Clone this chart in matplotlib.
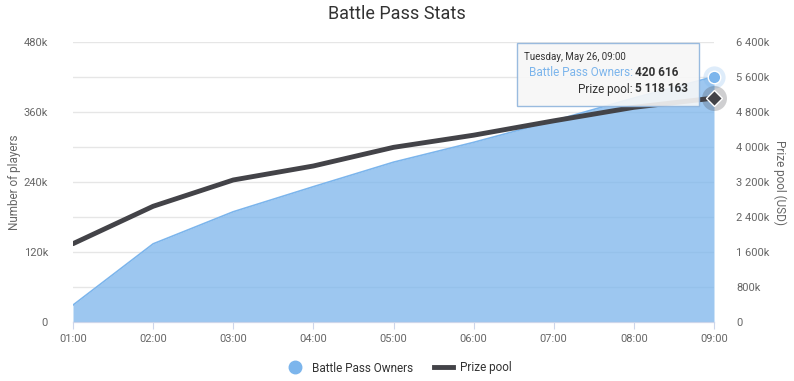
import numpy as np
import matplotlib.pyplot as plt
from matplotlib.lines import Line2D
from matplotlib.ticker import FuncFormatter, MultipleLocator

# =============================================================================
# Data
# =============================================================================

hours = ['01:00', '02:00', '03:00', '04:00', '05:00', '06:00', '07:00', '08:00', '09:00']
owners = [29000, 134000, 189000, 232000, 274000, 308000, 345000, 384000, 420616]
prize = [1790000, 2645000, 3246000, 3566000, 3992000, 4270000, 4598000, 4907000, 5118163]

tooltip_date = 'Tuesday, May 26, 09:00'

# =============================================================================
# Style
# =============================================================================

plt.rcParams['font.family'] = ['Roboto', 'DejaVu Sans']
blue = '#7cb5ec'
dark = '#434348'
grey_txt = '#666666'
grid_col = '#e6e6e6'


def k_fmt(v, pos):
    if v == 0:
        return '0'
    s = '{:,}'.format(int(round(v / 1000))).replace(',', ' ')
    return s + 'k'


# =============================================================================
# Plot
# =============================================================================

fig = plt.figure(figsize=(7.94, 3.81), dpi=100)
ax = fig.add_axes([73 / 794, 1 - 322 / 381, 641 / 794, 280 / 381])
ax2 = ax.twinx()

x = np.arange(len(hours))

# Area: battle pass owners
ax.fill_between(x, 0, owners, color=blue, alpha=0.75, linewidth=0, zorder=2)
ax.plot(x, owners, color=blue, linewidth=1.2, zorder=3)

# Line: prize pool
ax2.plot(x, prize, color=dark, linewidth=3.5, solid_capstyle='round', zorder=3)

# Hover markers at last point
ax.plot(x[-1], owners[-1], 'o', ms=16, color=blue, alpha=0.25, mec='none',
        zorder=4, clip_on=False)
ax.plot(x[-1], owners[-1], 'o', ms=9, color=blue, mec='white', mew=1,
        zorder=5, clip_on=False)
ax2.plot(x[-1], prize[-1], 'o', ms=18, color=dark, alpha=0.25, mec='none',
         zorder=4, clip_on=False)
ax2.plot(x[-1], prize[-1], 'D', ms=8, color=dark, mec='white', mew=1,
         zorder=5, clip_on=False)

# Axes limits and ticks
ax.set_xlim(0, len(hours) - 1)
ax.set_ylim(0, 480000)
ax2.set_ylim(0, 6400000)
ax.set_xticks(x)
ax.set_xticklabels(hours)
ax.yaxis.set_major_locator(MultipleLocator(120000))
ax.yaxis.set_minor_locator(MultipleLocator(60000))
ax.yaxis.set_major_formatter(FuncFormatter(k_fmt))
ax2.yaxis.set_major_locator(MultipleLocator(800000))
ax2.yaxis.set_major_formatter(FuncFormatter(k_fmt))

ax.grid(axis='y', which='both', color=grid_col, linewidth=1, zorder=0)
ax.set_axisbelow(True)

ax.tick_params(axis='y', which='both', length=0, pad=18, labelsize=8, labelcolor=grey_txt)
ax2.tick_params(axis='y', length=0, pad=16, labelsize=8, labelcolor=grey_txt)
ax.tick_params(axis='x', length=5, color='#ccd6eb', pad=4, labelsize=8, labelcolor=grey_txt)

for a in (ax, ax2):
    for s in ['top', 'left', 'right']:
        a.spines[s].set_visible(False)
    a.spines['bottom'].set_color('#ccd6eb')

ax.set_ylabel('Number of players', fontsize=8.5, color=grey_txt, labelpad=2)
ax2.set_ylabel('Prize pool (USD)', fontsize=8.5, color=grey_txt, rotation=270, labelpad=12)

fig.text(0.5, 1 - 14 / 381, 'Battle Pass Stats', ha='center', va='center',
         fontsize=13, color='#333333')

# Legend
handles = [Line2D([], [], marker='o', ls='none', ms=9, color=blue),
           Line2D([], [], color=dark, lw=3.5)]
fig.legend(handles, ['Battle Pass Owners', 'Prize pool'], loc='center',
           bbox_to_anchor=(0.502, 1 - 368 / 381), ncol=2, frameon=False,
           fontsize=8.5, handlelength=1.6, columnspacing=1.8, handletextpad=0.6,
           labelcolor='#333333')

# Tooltip
fig.patches.append(plt.Rectangle((517 / 794, 1 - 106 / 381), 182 / 794, 63 / 381,
                                 transform=fig.transFigure, facecolor='#f7f7f7',
                                 alpha=0.9, edgecolor='#8fb4dc', linewidth=1,
                                 zorder=10))
fig.text(524 / 794, 1 - 57 / 381, tooltip_date, fontsize=7, color='#333333',
         va='center', ha='left', zorder=11)
fig.text(633 / 794, 1 - 73 / 381, 'Battle Pass Owners:', fontsize=8.5, color=blue,
         va='center', ha='right', zorder=11)
fig.text(635 / 794, 1 - 73 / 381, '{:,}'.format(owners[-1]).replace(',', ' '),
         fontsize=8.5, color='#333333', weight='bold', va='center', ha='left', zorder=11)
fig.text(633 / 794, 1 - 89 / 381, 'Prize pool:', fontsize=8.5, color='#333333',
         va='center', ha='right', zorder=11)
fig.text(635 / 794, 1 - 89 / 381, '{:,}'.format(prize[-1]).replace(',', ' '),
         fontsize=8.5, color='#333333', weight='bold', va='center', ha='left', zorder=11)

fig.savefig('out.png', dpi=100)
